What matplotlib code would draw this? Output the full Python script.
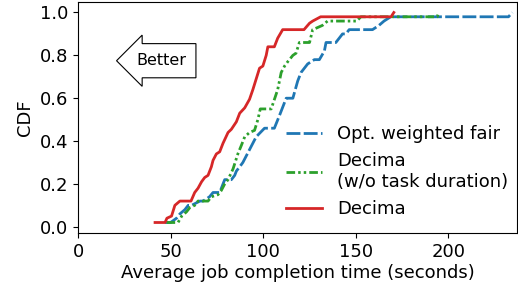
import numpy as np
import matplotlib
matplotlib.use('Agg')
import matplotlib.pyplot as plt

#%% data (vertices of each CDF curve)
# Opt. weighted fair
fairX = [47, 50, 53.2, 55, 57.7, 59.5, 61.3, 65.8, 67.5, 71, 72.9, 76.5, 78.3, 79.2,
         82.8, 84.6, 85.5, 87.3, 89, 92.6, 96.2, 100.7, 106, 108.8, 112.4, 116,
         118.6, 120.4, 124, 127.6, 130.3, 133, 133.9, 139.2, 141, 142.8, 144.6,
         146.4, 159, 162.5, 165.2, 168.8, 232.4, 234.5]
fairY = [0.02, 0.02, 0.04, 0.06, 0.08, 0.10, 0.10, 0.12, 0.12, 0.14, 0.16, 0.16, 0.20,
         0.22, 0.22, 0.24, 0.26, 0.28, 0.30, 0.36, 0.42, 0.46, 0.46, 0.52, 0.60, 0.60,
         0.68, 0.72, 0.76, 0.78, 0.78, 0.82, 0.86, 0.86, 0.88, 0.90, 0.90,
         0.92, 0.92, 0.94, 0.96, 0.98, 0.98, 1.0]

# Decima (w/o task duration)
noDurX = [47.8, 54, 56, 58.6, 60.4, 63, 64.8, 70.2, 72, 75.6, 77.4, 79.2, 81, 83.7,
          86.3, 88.2, 90, 92.6, 95.3, 97.1, 98.4, 104.3, 107.8, 109.7, 111.5, 113.2,
          116, 117.7, 119.5, 125, 126.7, 129.4, 132, 134.7, 150.5, 152.7, 193.9, 194.3]
noDurY = [0.02, 0.02, 0.05, 0.07, 0.09, 0.10, 0.12, 0.12, 0.14, 0.15, 0.17, 0.20, 0.22, 0.27,
          0.34, 0.38, 0.42, 0.44, 0.45, 0.50, 0.55, 0.55, 0.64, 0.72, 0.75, 0.77,
          0.80, 0.81, 0.86, 0.86, 0.92, 0.93, 0.94, 0.96, 0.96, 0.98, 0.98, 0.99]

# Decima
decimaX = [41.6, 47, 48, 50.5, 52.3, 55, 56, 61, 63, 64.8, 66.7, 68.4, 70.2, 72, 72.9,
           74.7, 76.5, 78.3, 81, 82.8, 85.5, 87.3, 90, 92.6, 94.4, 96.2, 98, 99.8,
           101.6, 102.5, 106, 107.8, 110.5, 122, 125, 126.7, 131, 169, 170.5]
decimaY = [0.02, 0.02, 0.04, 0.05, 0.10, 0.12, 0.12, 0.12, 0.16, 0.18, 0.21, 0.23, 0.24, 0.28,
           0.31, 0.34, 0.35, 0.39, 0.44, 0.455, 0.49, 0.53, 0.555, 0.595, 0.64, 0.69, 0.74,
           0.75, 0.80, 0.84, 0.84, 0.88, 0.92, 0.92, 0.95, 0.96, 0.98, 0.98, 1.0]

#%% plot
plt.rcParams['font.size'] = 13

fig = plt.figure(figsize=(5.18, 2.86), dpi=100)
ax = fig.add_axes([78/518, 53/286, 439/518, 231/286])

ax.plot(fairX, fairY, color='tab:blue', lw=2, ls=(0, (5, 1.2)), label='Opt. weighted fair')
ax.plot(noDurX, noDurY, color='tab:green', lw=2, ls=(0, (3.1, 1.1, 0.9, 1.1, 0.9, 1.1)),
        label='Decima\n(w/o task duration)')
ax.plot(decimaX, decimaY, color='tab:red', lw=2, label='Decima')

ax.text(45, 0.775, 'Better', ha='center', va='center', fontsize=11.5,
        bbox=dict(boxstyle='larrow,pad=0.6', fc='white', ec='black', lw=0.8))

ax.set_xlim(0, 237)
ax.set_ylim(-0.029, 1.049)
ax.set_xticks([0, 50, 100, 150, 200])
ax.set_yticks([0.0, 0.2, 0.4, 0.6, 0.8, 1.0])
ax.set_xlabel('Average job completion time (seconds)', labelpad=2)
ax.set_ylabel('CDF')
ax.legend(loc='lower right', bbox_to_anchor=(1.0, 0.025), frameon=False,
          fontsize=13, borderaxespad=0.1)

fig.savefig('out.png', dpi=100)
